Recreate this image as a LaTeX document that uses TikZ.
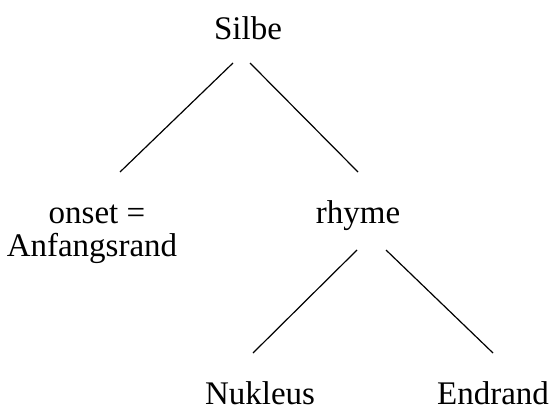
\documentclass[tikz,border=0pt]{standalone}
\usepackage{fontspec}
\setmainfont{Liberation Serif}
\begin{document}
\begin{tikzpicture}[x=1pt,y=-1pt,
  lbl/.style={anchor=base,inner sep=0pt,font=\fontsize{33}{38}\selectfont},
  edge/.style={line width=1.2pt,black}]
\useasboundingbox (0,0) rectangle (553,412);
\node[lbl] (silbe) at (248,40) {Silbe};
\node[lbl] (onset) at (97,223) {onset =};
\node[lbl] (anf) at (92,256) {Anfangsrand};
\node[lbl] (rhyme) at (358,223) {rhyme};
\node[lbl] (nuk) at (260,404) {Nukleus};
\node[lbl] (end) at (493,404) {Endrand};
\draw[edge] ([xshift=-15pt,yshift=-23pt]silbe.base) -- ([xshift=23pt,yshift=51pt]onset.base);
\draw[edge] ([xshift=2pt,yshift=-23pt]silbe.base) -- ([xshift=0pt,yshift=51pt]rhyme.base);
\draw[edge] ([xshift=-1pt,yshift=-27pt]rhyme.base) -- ([xshift=-7pt,yshift=51pt]nuk.base);
\draw[edge] ([xshift=28pt,yshift=-27pt]rhyme.base) -- ([xshift=0pt,yshift=51pt]end.base);
\end{tikzpicture}
\end{document}
